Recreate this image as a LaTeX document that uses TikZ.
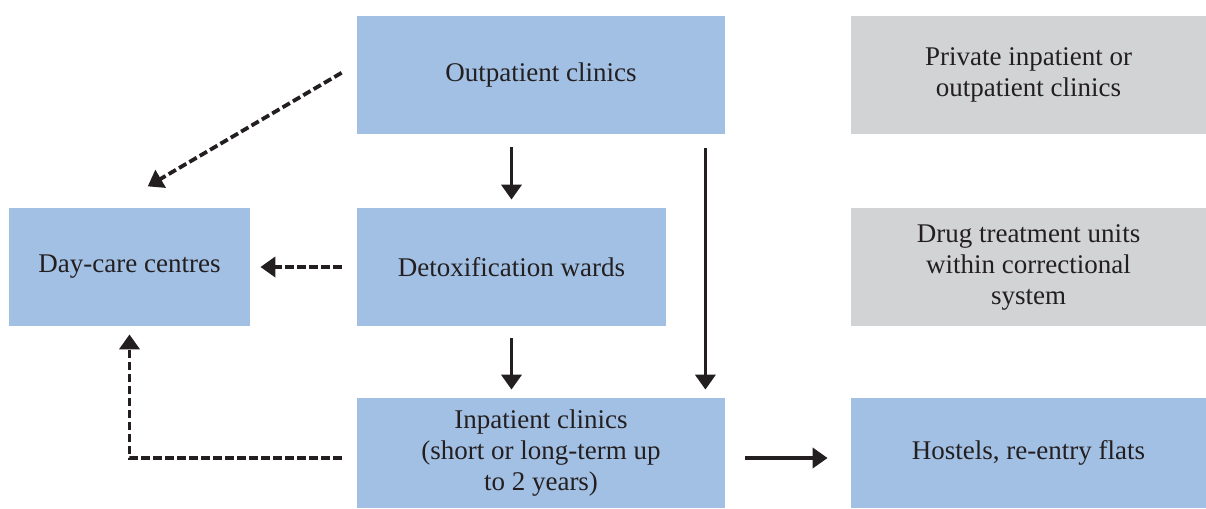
\documentclass[tikz,border=0pt]{standalone}
\usepackage{fontspec}
\setmainfont{Liberation Serif}
\usetikzlibrary{arrows.meta,positioning}

\definecolor{boxblue}{RGB}{162,192,228}
\definecolor{boxgray}{RGB}{210,211,213}
\definecolor{arrowdark}{RGB}{35,31,32}

\begin{document}
\begin{tikzpicture}[x=0.5pt, y=-0.5pt,
    every node/.style={align=center, inner sep=2pt, text=arrowdark,
        font=\fontsize{13.5}{15.5}\selectfont},
    unit/.style={fill=boxblue, minimum height=59pt},
    other/.style={fill=boxgray, minimum width=177.5pt, minimum height=59pt},
    flow/.style={draw=arrowdark, line width=1.9pt, -{Triangle[length=7.5pt,width=10pt]}},
    side/.style={flow, line width=1.9pt, dash pattern=on 4.2pt off 1.8pt}]
    \useasboundingbox (0,0) rectangle (1206,509);
    % treatment units
    \node[unit, minimum width=184pt] (outp) at (541,75) {Outpatient clinics};
    \node[unit, minimum width=154.5pt] (detox) at (511.5,267) {Detoxification wards};
    \node[unit, minimum width=120.5pt] (day) at (129.5,267) {Day-care centres};
    \node[unit, minimum width=184pt, minimum height=55pt] (inp) at (541,453)
        {Inpatient clinics\\(short or long-term up\\to 2 years)};
    % other services
    \node[other] (priv) at (1028.5,75) {Private inpatient or\\outpatient clinics};
    \node[other] (prison) at (1028.5,267) {Drug treatment units\\within correctional\\system};
    \node[other, fill=boxblue, minimum height=55pt] (hostel) at (1028.5,453) {Hostels, re-entry flats};
    % main pathway
    \draw[flow, shorten <=6.5pt, shorten >=4pt] (detox.north |- outp.south) -- (detox.north);
    \draw[flow, shorten <=6pt, shorten >=4pt] (detox.south) -- (detox.south |- inp.north);
    \draw[flow, shorten <=7pt, shorten >=4pt] ([xshift=-10pt]outp.south east) -- ([xshift=-10pt]inp.north east);
    \draw[flow, shorten <=10pt, shorten >=11.5pt] ([yshift=-2.5pt]inp.east) -- ([yshift=-2.5pt]hostel.west);
    % day-care links
    \draw[side, shorten <=8.7pt, shorten >=21pt] ([yshift=5.5pt]outp.west) -- ([xshift=-9pt]day.north);
    \draw[side, shorten <=7.5pt, shorten >=5pt] (detox.west) -- (day.east);
    \draw[side, shorten <=7.5pt, shorten >=4pt] ([yshift=-2.5pt]inp.west) -| (day.south);
\end{tikzpicture}
\end{document}
